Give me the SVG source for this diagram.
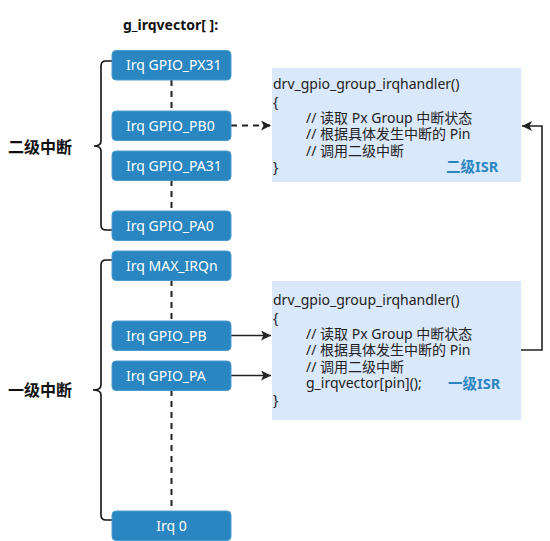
<svg xmlns="http://www.w3.org/2000/svg" width="550" height="541" viewBox="0 0 550 541">
<style>
.node rect{fill:#2a86c1;stroke:#4d9cd0;stroke-width:1}
.node text{fill:#ffffff;font-family:"Noto Sans","Open Sans",sans-serif;font-size:14px}
.isr rect{fill:#dae8fc;stroke:none}
.isr text{fill:#222;font-family:"Noto Sans","Noto Sans CJK SC",sans-serif;font-size:14px}
.isr .tag{fill:#2a86c1;font-weight:bold;font-size:14.5px}
.lbl{font-family:"Noto Sans","Noto Sans CJK SC",sans-serif;font-weight:bold;fill:#111}
.brace{fill:none;stroke:#111;stroke-width:1.6}
.dash{fill:none;stroke:#222;stroke-width:2;stroke-dasharray:6 5}
.line{fill:none;stroke:#222;stroke-width:1.6}
</style>
<defs>
<marker id="arr" viewBox="0 0 10 10" refX="10" refY="5" markerWidth="10" markerHeight="10" markerUnits="userSpaceOnUse" orient="auto">
<path d="M0,0 L10,5 L0,10 L2.5,5 Z" fill="#222"/>
</marker>
</defs>
<text class="lbl" x="123" y="30" font-size="14">g_irqvector[ ]:</text>
<text class="lbl" x="8" y="153" font-size="16">二级中断</text>
<text class="lbl" x="8" y="396" font-size="16">一级中断</text>
<g id="braces">
<path class="brace" d="M112,61 L106,61 Q101,61 101,66 L101,141 Q101,146 94,146 Q101,146 101,151 L101,225 Q101,230 106,230 L112,230"/>
<path class="brace" d="M112,260 L106,260 Q101,260 101,265 L101,385 Q101,390 93,390 Q101,390 101,395 L101,515 Q101,520 106,520 L112,520"/>
</g>
<g id="connectors">
<line class="dash" x1="171.5" y1="80" x2="171.5" y2="111"/>
<line class="dash" x1="171.5" y1="180" x2="171.5" y2="211"/>
<line class="dash" x1="171.5" y1="280" x2="171.5" y2="321"/>
<line class="dash" x1="171.5" y1="390" x2="171.5" y2="511"/>
<line class="dash" x1="231" y1="125.5" x2="271" y2="125.5" marker-end="url(#arr)"/>
<line class="line" x1="231" y1="335.5" x2="271" y2="335.5" marker-end="url(#arr)"/>
<line class="line" x1="231" y1="375.5" x2="271" y2="375.5" marker-end="url(#arr)"/>
<polyline class="line" points="521,350 542,350 542,126 522,126" marker-end="url(#arr)"/>
</g>
<g id="n-px31" class="node"><rect x="112" y="50.5" width="119" height="29.5" rx="4"/><text x="126" y="70">Irq GPIO_PX31</text></g>
<g id="n-pb0" class="node"><rect x="112" y="111" width="119" height="29.5" rx="4"/><text x="126" y="130.5">Irq GPIO_PB0</text></g>
<g id="n-pa31" class="node"><rect x="112" y="151" width="119" height="29.5" rx="4"/><text x="126" y="170.5">Irq GPIO_PA31</text></g>
<g id="n-pa0" class="node"><rect x="112" y="211" width="119" height="29.5" rx="4"/><text x="126" y="230.5">Irq GPIO_PA0</text></g>
<g id="n-max" class="node"><rect x="112" y="251" width="119" height="29.5" rx="4"/><text x="126" y="270.5">Irq MAX_IRQn</text></g>
<g id="n-pb" class="node"><rect x="112" y="321" width="119" height="29.5" rx="4"/><text x="126" y="340.5">Irq GPIO_PB</text></g>
<g id="n-pa" class="node"><rect x="112" y="361" width="119" height="29.5" rx="4"/><text x="126" y="380.5">Irq GPIO_PA</text></g>
<g id="n-irq0" class="node"><rect x="112" y="511" width="119" height="29.5" rx="4"/><text x="171.5" y="530.5" text-anchor="middle">Irq 0</text></g>
<g id="isr2" class="isr">
<rect x="272" y="68" width="249" height="114"/>
<text x="273" y="89">drv_gpio_group_irqhandler()</text>
<text x="273" y="106.5">{</text>
<text x="306" y="123">// 读取 Px Group 中断状态</text>
<text x="306" y="139">// 根据具体发生中断的 Pin</text>
<text x="306" y="155.5">// 调用二级中断</text>
<text x="273" y="172">}</text>
<text class="tag" x="446" y="171.5">二级ISR</text>
</g>
<g id="isr1" class="isr">
<rect x="272" y="281" width="249" height="139"/>
<text x="273" y="305">drv_gpio_group_irqhandler()</text>
<text x="273" y="322.5">{</text>
<text x="306" y="338.5">// 读取 Px Group 中断状态</text>
<text x="306" y="355">// 根据具体发生中断的 Pin</text>
<text x="306" y="371.5">// 调用二级中断</text>
<text x="306" y="388">g_irqvector[pin]();</text>
<text x="273" y="405">}</text>
<text class="tag" x="448" y="388.5">一级ISR</text>
</g>
</svg>
